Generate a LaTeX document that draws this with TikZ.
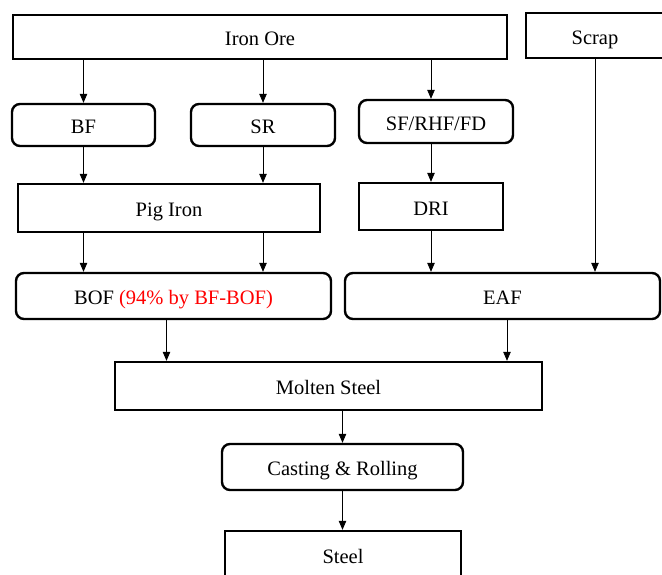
\documentclass[tikz,border=0pt]{standalone}
\usepackage{fontspec}
\setmainfont{Liberation Serif}
\usepackage{tikz}
\usetikzlibrary{arrows.meta}

\begin{document}
\begin{tikzpicture}[x=1pt,y=-1pt,
	every node/.style={draw=black,line width=2.4pt,inner sep=0pt,text height=17.5pt,text depth=0pt,font=\rmfamily\fontsize{20.5}{24}\selectfont},
	box/.style={rectangle},
	rbox/.style={rectangle,rounded corners=8pt},
	flow/.style={line width=0.8pt,-{Triangle[length=9pt,width=7.5pt]}}]

		\useasboundingbox (0,0) rectangle (662,575);

		%raw materials
		\node[box,minimum width=494pt,minimum height=44pt] (ore) at (260,37) {Iron Ore};
		\node[box,minimum width=138pt,minimum height=45pt] (scrap) at (595,35.5) {Scrap};

		%reduction
		\node[rbox,minimum width=143pt,minimum height=42pt] (bf) at (83.5,125) {BF};
		\node[rbox,minimum width=144pt,minimum height=42pt] (sr) at (263,125) {SR};
		\node[rbox,minimum width=154pt,minimum height=43pt] (sf) at (436,121.5) {SF/RHF/FD};

		%intermediate products
		\node[box,minimum width=302pt,minimum height=48pt] (pig) at (169,208) {Pig Iron};
		\node[box,minimum width=144pt,minimum height=47pt] (dri) at (431,206.5) {DRI};

		%steelmaking
		\node[rbox,minimum width=315pt,minimum height=46pt] (bof) at (173.5,296) {BOF {\color{red}(94\% by BF-BOF)}};
		\node[rbox,minimum width=315pt,minimum height=46pt] (eaf) at (502.5,296) {EAF};

		%finishing
		\node[box,minimum width=427pt,minimum height=48pt] (molten) at (328.5,386) {Molten Steel};
		\node[rbox,minimum width=241pt,minimum height=46pt] (cast) at (342.5,467) {Casting \& Rolling};
		\node[box,minimum width=236pt,minimum height=48pt] (steel) at (343,555) {Steel};

		%edges
		\draw[flow] (ore.south -| bf) -- (bf);
		\draw[flow] (ore.south -| sr) -- (sr);
		\draw[flow] (ore.south -| dri) -- (sf.north -| dri);
		\draw[flow] (bf) -- (pig.north -| bf);
		\draw[flow] (sr) -- (pig.north -| sr);
		\draw[flow] (sf.south -| dri) -- (dri);
		\draw[flow] (pig.south -| bf) -- (bof.north -| bf);
		\draw[flow] (pig.south -| sr) -- (bof.north -| sr);
		\draw[flow] (dri) -- (eaf.north -| dri);
		\draw[flow] (scrap) -- (eaf.north -| scrap);
		\draw[flow] ([xshift=-7pt]bof.south) -- ([xshift=-7pt]bof.south |- molten.north);
		\draw[flow] ([xshift=4.5pt]eaf.south) -- ([xshift=4.5pt]eaf.south |- molten.north);
		\draw[flow] (molten.south -| cast) -- (cast);
		\draw[flow] (cast.south) -- (cast.south |- steel.north);
\end{tikzpicture}
\end{document}
